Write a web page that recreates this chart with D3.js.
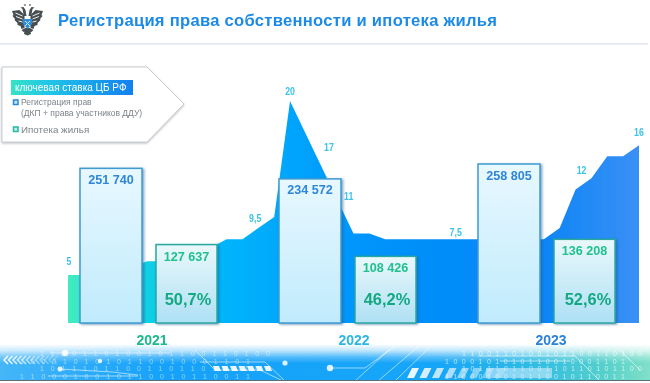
<!DOCTYPE html>
<html><head><meta charset="utf-8">
<script src="https://cdn.jsdelivr.net/npm/d3@7/dist/d3.min.js"></script>
<style>html,body{margin:0;padding:0;background:#fff}svg{display:block}text{font-family:"Liberation Sans",Arial,sans-serif}</style>
</head><body><svg id="c" width="650" height="383"></svg>
<script>
const years = ["2021","2022","2023"];
const registrations = [251740,234572,258805];
const mortgages = [127637,108426,136208];
const mortgageShare = ["50,7%","46,2%","52,6%"];
const yearColors = ["#1db98c","#2bb7e2","#2a82da"];
const keyRate = [4.25,4.25,4.5,5,5,5.5,5.5,6.5,6.75,6.75,7.5,7.5,8.5,9.5,20,17,14,11,8,8,7.5,7.5,7.5,7.5,7.5,7.5,7.5,7.5,7.5,7.5,7.5,8.5,12,13,15,15,16];
const rateLabels = [{i:0,t:"5",dx:1,y:262},{i:13,t:"9,5",dx:-19,y:219},{i:14,t:"20",dx:0,y:92},{i:15,t:"17",dx:23,y:148},{i:17,t:"11",dx:11,y:197},{i:24,t:"7,5",dx:7,y:233},{i:32,t:"12",dx:6,y:171},{i:36,t:"16",dx:0,y:133}];
const binaryRows = ["1 1 0 0 1 1 0 1 0 0 1 0 1 1 0 0 1 1 0 1 0 0","1 0 0 0 1 0 1 0 1 0 1 1 0 0 1 0 0 0 1 1 0 1","1 0 1 1 1 0 1 1 0 0 1 1 0 1 1 0 1 0 1 1 0 0","1 1 0 0 0 1 0 0 1 0 1 1 0 0 1 0 1 1 0 0 1 1"];

const svg = d3.select("#c");
const defs = svg.append("defs");
function lin(id, stops, h){
  const g = defs.append("linearGradient").attr("id",id).attr("x1",0).attr("y1",0).attr("x2",h?1:0).attr("y2",h?0:1);
  stops.forEach(s=>g.append("stop").attr("offset",s[0]).attr("stop-color",s[1]).attr("stop-opacity",s[2]===undefined?1:s[2]));
}
lin("area",[[0,"#42ecc0"],[.09,"#22dcd0"],[.17,"#08c8f0"],[.28,"#00b4fb"],[.5,"#0096fc"],[.82,"#0a84f6"],[1,"#3a90f5"]],true);
lin("barB",[[0,"#e8f8ff"],[1,"#c0ebfc"]]);
lin("barG",[[0,"#eaf8fb"],[1,"#aee0f4"]]);
lin("legendBar",[[0,"#35e3c4"],[.3,"#22c6e8"],[1,"#1180f0"]],true);
lin("fade",[[0,"#fff",1],[.35,"#fff",.72],[.7,"#fff",.25],[1,"#fff",0]]);
lin("strip",[[0,"#45b6f8"],[.25,"#16a2fa"],[.68,"#18a6f8"],[.82,"#30bce4"],[.93,"#55d0cc"],[1,"#80e0c8"]],true);
const sh = defs.append("filter").attr("id","sh").attr("x","-10%").attr("y","-10%").attr("width","125%").attr("height","125%");
sh.append("feDropShadow").attr("dx",1.5).attr("dy",1).attr("stdDeviation",1).attr("flood-color","#1c5a90").attr("flood-opacity",.55);
const sl = defs.append("filter").attr("id","sl").attr("x","-5%").attr("y","-5%").attr("width","110%").attr("height","115%");
sl.append("feDropShadow").attr("dx",0).attr("dy",1).attr("stdDeviation",1).attr("flood-color","#8a9098").attr("flood-opacity",.6);
const bl = defs.append("filter").attr("id","bl").attr("x",0).attr("y",0).attr("width",650).attr("height",383).attr("filterUnits","userSpaceOnUse");
bl.append("feGaussianBlur").attr("stdDeviation",.4);
const root = svg.append("g").attr("filter","url(#bl)");
root.append("rect").attr("width",650).attr("height",383).attr("fill","#fff");

// header
root.append("rect").attr("x",0).attr("y",43).attr("width",648).attr("height",1.6).attr("fill","#e3e7ee");
const logo = root.append("g").attr("transform","translate(27.5,20)");
[-1,1].forEach(s=>{
  const w = logo.append("g").attr("transform",`scale(${s},1)`);
  w.append("path").attr("d","M3,-5 L8,-10 L15.5,-9 L14,-5 L15,-4 L12.5,-1 L13,0 L10,3 L10,5 L7,6 L6,9 L3,8Z").attr("fill","#474f52");
  [[5,-4,12,-7],[5,-1,11.5,-3.5],[5,2,9,1]].forEach(l=>w.append("line").attr("x1",l[0]).attr("y1",l[1]).attr("x2",l[2]).attr("y2",l[3]).attr("stroke","#fff").attr("stroke-width",.9));
  w.append("path").attr("d","M1,-4 L2,-10 L4,-13 L7,-12.5 L5,-11 L4.5,-8 L3.5,-4Z").attr("fill","#474f52");
  w.append("circle").attr("cx",2.5).attr("cy",-15).attr("r",.9).attr("fill","#6a7276");
  w.append("path").attr("d","M2,8 L6,10 L4,12 L1,11Z").attr("fill","#474f52");
});
logo.append("path").attr("d","M-2.5,8 L2.5,8 L3.5,14 L0,15.5 L-3.5,14Z").attr("fill","#474f52");
logo.append("path").attr("d","M-4.5,-1 L4.5,-1 L4.5,4 L0,9 L-4.5,4Z").attr("fill","#2f8ed8");
logo.append("path").attr("d","M-2.5,1 L2.5,6 M2.5,1 L-2.5,6").attr("stroke","#cfeaff").attr("stroke-width",1);
root.append("text").attr("x",58).attr("y",25.5).attr("font-size",16.6).attr("font-weight",700).attr("fill","#1a8ae6").attr("textLength",439).text("Регистрация права собственности и ипотека жилья");

// bottom strip
const strip = root.append("g").attr("class","decor");
strip.append("rect").attr("x",0).attr("y",345).attr("width",650).attr("height",35).attr("fill","url(#strip)");
binaryRows.forEach((r,i)=>{
  strip.append("text").attr("x",i%2?20:40).attr("y",356+i*7.6).attr("font-size",7).attr("fill","#fff").attr("fill-opacity",.5).attr("textLength",230).text(r);
  strip.append("text").attr("x",i%2?445:462).attr("y",356+i*7.6).attr("font-size",7).attr("fill","#fff").attr("fill-opacity",.65).attr("textLength",180).text(r);
});
strip.append("rect").attr("x",0).attr("y",344).attr("width",650).attr("height",19).attr("fill","url(#fade)");
root.append("rect").attr("x",0).attr("y",380).attr("width",650).attr("height",1).attr("fill","#5a6e7c");
const circuit = [[[50,353],[170,353]],[[60,369],[112,372],[138,375]],[[48,376],[138,376]],[[195,350],[215,370],[260,370],[283,381]],[[200,362],[265,362],[285,381]],[[330,368],[365,368],[395,346]],[[355,381],[390,349]],[[378,381],[420,345]],[[395,381],[432,345]],[[478,356],[575,356],[600,381]],[[500,361],[570,361]],[[620,350],[640,370]]];
strip.selectAll("path.c").data(circuit).join("path").attr("class","c").attr("d",d3.line()).attr("fill","none").attr("stroke","#fff").attr("stroke-width",.8).attr("stroke-opacity",.7);
[[65,353,3.2],[100,361,2.2],[60,369,2.5],[285,363,2.6],[330,368,3.2]].forEach(c=>strip.append("circle").attr("cx",c[0]).attr("cy",c[1]).attr("r",c[2]).attr("fill","#fff").attr("fill-opacity",.85));
d3.range(7).forEach(i=>strip.append("path").attr("d",`M${213+i*8.5},366 l6,0 l2,5 l-6,0Z`).attr("fill","#fff").attr("fill-opacity",.9));
d3.range(8).forEach(i=>strip.append("path").attr("d",`M${412+i*12.5},368 l7,0 l-5,10 l-7,0Z`).attr("fill","#fff").attr("fill-opacity",.9-i*.09));
strip.append("rect").attr("x",486).attr("y",368).attr("width",66).attr("height",10).attr("fill","#d8f0ff").attr("fill-opacity",.55);
d3.range(12).forEach(i=>strip.append("path").attr("d",`M${8+i*4.5},356 l-4,4 l4,4`).attr("fill","none").attr("stroke","#fff").attr("stroke-width",1.5).attr("stroke-opacity",.95-i*.07));

// area
const x = d3.scaleLinear().domain([0,keyRate.length-1]).range([68,639]);
const y = d3.scaleLinear().domain([0,20]).range([322,101]);
const baseY = 323;
root.append("path").datum(keyRate).attr("fill","url(#area)")
  .attr("d",d3.area().x((d,i)=>x(i)).y0(baseY).y1(d=>y(d)));
root.selectAll("text.rate").data(rateLabels).join("text").attr("class","rate")
  .attr("x",d=>x(d.i)+d.dx).attr("y",d=>d.y+3.5).attr("text-anchor","middle")
  .attr("font-size",10).attr("font-weight",700).attr("fill","#3cc4e4").attr("transform",d=>`translate(${(x(d.i)+d.dx)*.12},0) scale(.88,1)`).text(d=>d.t);

// bars
const gx = d3.scalePoint().domain(years).range([80,478]);
const h = d3.scaleLinear().domain([0,258805]).range([baseY,164]);
const bw = 62, off = 76;
const fmt = v => d3.format(",")(v).replace(",", " ");
const g = root.selectAll("g.year").data(years).join("g").attr("class","year");
g.append("rect").attr("x",d=>gx(d)).attr("y",(d,i)=>h(registrations[i])).attr("width",bw).attr("height",(d,i)=>baseY-h(registrations[i]))
 .attr("fill","url(#barB)").attr("stroke","#3c9ad2").attr("stroke-width",1.5).attr("filter","url(#sh)");
g.append("rect").attr("x",d=>gx(d)+off).attr("y",(d,i)=>h(mortgages[i])).attr("width",bw-1).attr("height",(d,i)=>baseY-h(mortgages[i]))
 .attr("fill","url(#barG)").attr("stroke","#2aa8a0").attr("stroke-width",1.5).attr("filter","url(#sh)");
g.append("text").attr("x",d=>gx(d)+bw/2).attr("y",(d,i)=>h(registrations[i])+15.5).attr("text-anchor","middle").attr("font-size",12.6).attr("font-weight",700).attr("fill","#2f86d6").text((d,i)=>fmt(registrations[i]));
g.append("text").attr("x",d=>gx(d)+off+bw/2-.5).attr("y",(d,i)=>h(mortgages[i])+16).attr("text-anchor","middle").attr("font-size",12.6).attr("font-weight",700).attr("fill","#22c08e").text((d,i)=>fmt(mortgages[i]));
g.append("text").attr("x",(d,i)=>gx(d)+off+bw/2+[1,1,3][i]).attr("y",304.5).attr("text-anchor","middle").attr("font-size",16.4).attr("font-weight",700).attr("fill","#14a883").text((d,i)=>mortgageShare[i]);
g.append("text").attr("x",(d,i)=>[152,354,551][i]).attr("y",345).attr("text-anchor","middle").attr("font-size",14).attr("font-weight",700).attr("fill",(d,i)=>yearColors[i]).text(d=>d);

// legend
const lg = root.append("g");
lg.append("path").attr("d","M2,67 L147,67 L184,104 L147,142 L2,142Z").attr("fill","#fff").attr("stroke","#c9cdd2").attr("stroke-width",1).attr("filter","url(#sl)");
lg.append("rect").attr("x",11).attr("y",80).attr("width",122).attr("height",15).attr("fill","url(#legendBar)");
lg.append("text").attr("x",15).attr("y",91).attr("font-size",10).attr("fill","#fff").text("ключевая ставка ЦБ РФ");
lg.append("rect").attr("x",13.5).attr("y",100).attr("width",4.5).attr("height",4.5).attr("fill","#bfe6fa").attr("stroke","#2a88d8").attr("stroke-width",1.5);
lg.append("rect").attr("x",13.5).attr("y",127).attr("width",4.5).attr("height",4.5).attr("fill","#bff0e8").attr("stroke","#25b8a0").attr("stroke-width",1.5);
lg.append("text").attr("x",21).attr("y",105).attr("font-size",8.5).attr("fill","#7c838a").text("Регистрация прав");
lg.append("text").attr("x",21).attr("y",115.5).attr("font-size",8.5).attr("fill","#7c838a").text("(ДКП + права участников ДДУ)");
lg.append("text").attr("x",21).attr("y",132.5).attr("font-size",9.8).attr("fill","#7c838a").text("Ипотека жилья");
</script></body></html>
